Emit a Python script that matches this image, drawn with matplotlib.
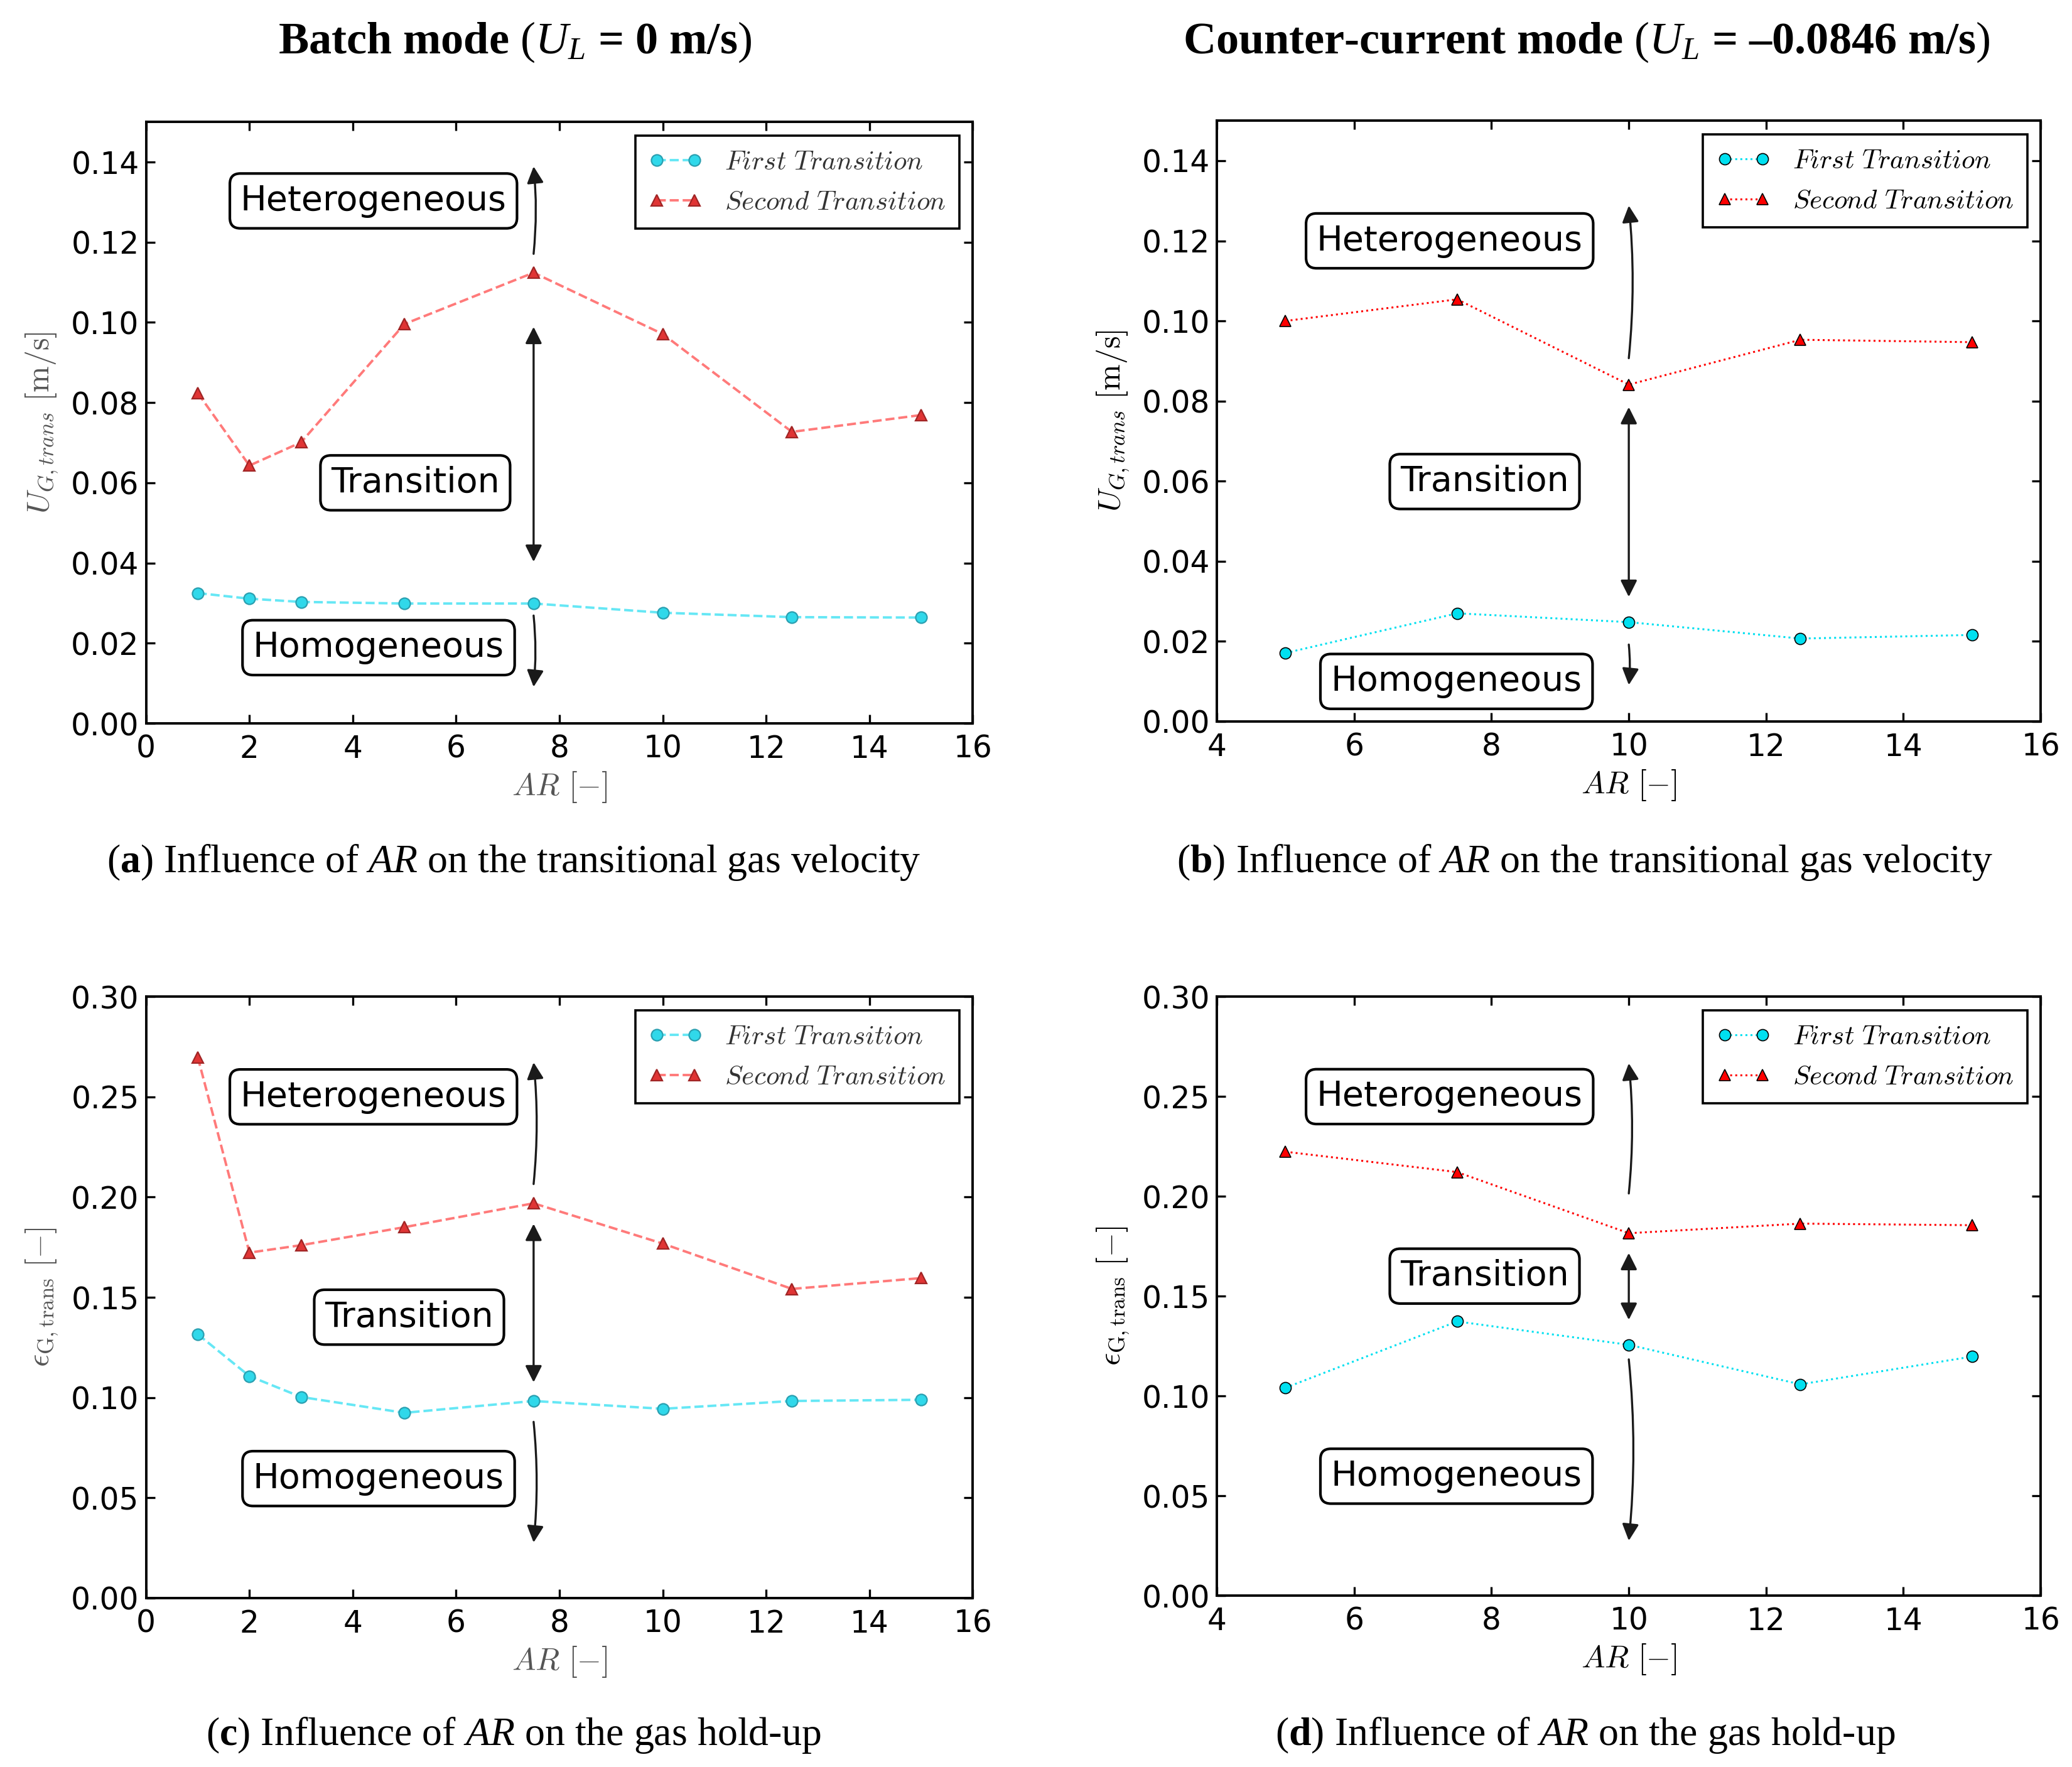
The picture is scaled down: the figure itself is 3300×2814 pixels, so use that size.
import matplotlib
matplotlib.use('Agg')
import matplotlib.pyplot as plt

# aspect ratios tested
ar_batch = [1, 2, 3, 5, 7.5, 10, 12.5, 15]
ar_counter = [5, 7.5, 10, 12.5, 15]

# transitional superficial gas velocity [m/s]
ug_first_batch = [0.0325, 0.0311, 0.0303, 0.0299, 0.0299, 0.0276, 0.0265, 0.0264]
ug_second_batch = [0.0824, 0.0643, 0.0701, 0.0996, 0.1124, 0.0971, 0.0727, 0.0769]
ug_first_counter = [0.0171, 0.0270, 0.0248, 0.0207, 0.0216]
ug_second_counter = [0.1000, 0.1054, 0.0841, 0.0953, 0.0947]

# gas hold-up at transition [-]
eg_first_batch = [0.1316, 0.1107, 0.1003, 0.0924, 0.0983, 0.0944, 0.0983, 0.0989]
eg_second_batch = [0.2698, 0.1723, 0.1760, 0.1850, 0.1969, 0.1768, 0.1542, 0.1596]
eg_first_counter = [0.1041, 0.1373, 0.1256, 0.1058, 0.1197]
eg_second_counter = [0.2223, 0.2121, 0.1815, 0.1863, 0.1855]

plt.rcParams['mathtext.fontset'] = 'cm'
plt.rcParams['mathtext.rm'] = 'Liberation Serif'
plt.rcParams['mathtext.it'] = 'Liberation Serif:italic'
plt.rcParams['mathtext.bf'] = 'Liberation Serif:bold'
plt.rcParams['font.family'] = 'DejaVu Sans'

CYAN = '#00e0f0'


def style_axes(ax, xlim, ylim, yticks, ylabel, labcol):
    ax.set_xlim(*xlim)
    ax.set_ylim(*ylim)
    ax.set_xticks(range(xlim[0], xlim[1] + 1, 2))
    ax.set_yticks(yticks)
    ax.set_yticklabels(['%.2f' % t for t in yticks])
    ax.tick_params(direction='in', top=True, right=True, length=5, width=1.2,
                   labelsize=17.5)
    ax.tick_params(axis='x', pad=6)
    ax.tick_params(axis='y', pad=4)
    for s in ax.spines.values():
        s.set_linewidth(1.4)
    ax.set_xlabel(r'$AR\ [-]$', fontsize=18, color=labcol, labelpad=3)
    ax.set_ylabel(ylabel, fontsize=18, color=labcol, labelpad=6)


def regimes(ax, xa, up, trans, down, boxes):
    # boxed regime names plus arrows pointing into each regime
    for txt, x, y in boxes:
        ax.text(x, y, txt, fontsize=20, ha='center', va='center', zorder=5,
                bbox=dict(boxstyle='round,pad=0.3', fc='white', ec='k', lw=1.5))
    ax.annotate('', xy=(xa, up[1]), xytext=(xa, up[0]),
                arrowprops=dict(arrowstyle='-|>', color='#1a1a1a', lw=1.2,
                                mutation_scale=20, shrinkA=0, shrinkB=0,
                                connectionstyle='arc3,rad=0.05'))
    ax.annotate('', xy=(xa, trans[1]), xytext=(xa, trans[0]),
                arrowprops=dict(arrowstyle='<|-|>', color='#1a1a1a', lw=1.2,
                                mutation_scale=20, shrinkA=0, shrinkB=0))
    ax.annotate('', xy=(xa, down[1]), xytext=(xa, down[0]),
                arrowprops=dict(arrowstyle='-|>', color='#1a1a1a', lw=1.2,
                                mutation_scale=20, shrinkA=0, shrinkB=0,
                                connectionstyle='arc3,rad=-0.05'))


def batch_lines(ax, x, first, second):
    ax.plot(x, first, ls='--', lw=1.4, color=(0.2, 0.88, 0.95, 0.75), marker='o',
            ms=6.5, mfc='#30d8ea', mec='#2a9fb0', mew=0.8, label=r'$First\ Transition$')
    ax.plot(x, second, ls='--', lw=1.4, color=(1.0, 0.3, 0.3, 0.75), marker='^',
            ms=6.5, mfc='#e03535', mec='#a02525', mew=0.8, label=r'$Second\ Transition$')
    leg = ax.legend(loc='upper right', fontsize=15.5, numpoints=2, handlelength=2,
                    fancybox=False, framealpha=1, edgecolor='k', borderpad=0.5)
    leg.get_frame().set_linewidth(1.3)
    for t in leg.get_texts():
        t.set_color('#333333')


def counter_lines(ax, x, first, second):
    ax.plot(x, first, ls=':', lw=1.1, color=CYAN, marker='o', ms=6.5,
            mfc=CYAN, mec='k', mew=0.6, label=r'$First\ Transition$')
    ax.plot(x, second, ls=':', lw=1.1, color='r', marker='^', ms=6.5,
            mfc='r', mec='k', mew=0.6, label=r'$Second\ Transition$')
    leg = ax.legend(loc='upper right', fontsize=15.5, numpoints=2, handlelength=2,
                    fancybox=False, framealpha=1, edgecolor='k', borderpad=0.5)
    leg.get_frame().set_linewidth(1.3)


fig = plt.figure(figsize=(16.5, 14.07), dpi=200)

ax_a = fig.add_axes([0.0705, 0.5906, 0.399, 0.3404])
ax_b = fig.add_axes([0.5873, 0.5917, 0.3976, 0.3400])
ax_c = fig.add_axes([0.0705, 0.0956, 0.399, 0.3404])
ax_d = fig.add_axes([0.5873, 0.0970, 0.3976, 0.3390])

ug_ticks = [0.00, 0.02, 0.04, 0.06, 0.08, 0.10, 0.12, 0.14]
eg_ticks = [0.00, 0.05, 0.10, 0.15, 0.20, 0.25, 0.30]
ug_label = r'$U_{G,trans}\ [\mathrm{m/s}]$'
eg_label = r'$\epsilon_{\mathrm{G,trans}}\ [-]$'

# (a) batch, velocity
batch_lines(ax_a, ar_batch, ug_first_batch, ug_second_batch)
style_axes(ax_a, (0, 16), (0, 0.15), ug_ticks, ug_label, '#555555')
regimes(ax_a, 7.5, (0.1171, 0.1389), (0.0989, 0.0403), (0.0269, 0.0091),
        [('Heterogeneous', 4.40, 0.1303), ('Transition', 5.21, 0.0600),
         ('Homogeneous', 4.50, 0.0189)])

# (b) counter-current, velocity
counter_lines(ax_b, ar_counter, ug_first_counter, ug_second_counter)
style_axes(ax_b, (4, 16), (0, 0.15), ug_ticks, ug_label, 'k')
regimes(ax_b, 10, (0.0907, 0.1288), (0.0785, 0.0311), (0.0192, 0.0091),
        [('Heterogeneous', 7.39, 0.1200), ('Transition', 7.90, 0.0599),
         ('Homogeneous', 7.49, 0.0100)])

# (c) batch, hold-up
batch_lines(ax_c, ar_batch, eg_first_batch, eg_second_batch)
style_axes(ax_c, (0, 16), (0, 0.30), eg_ticks, eg_label, '#555555')
regimes(ax_c, 7.5, (0.2065, 0.2672), (0.1867, 0.1076), (0.0879, 0.0277),
        [('Heterogeneous', 4.40, 0.2500), ('Transition', 5.09, 0.1401),
         ('Homogeneous', 4.50, 0.0596)])

# (d) counter-current, hold-up
counter_lines(ax_d, ar_counter, eg_first_counter, eg_second_counter)
style_axes(ax_d, (4, 16), (0, 0.30), eg_ticks, eg_label, 'k')
regimes(ax_d, 10, (0.2014, 0.2666), (0.1716, 0.1381), (0.1183, 0.0275),
        [('Heterogeneous', 7.39, 0.2499), ('Transition', 7.90, 0.1600),
         ('Homogeneous', 7.49, 0.0598)])

serif = dict(family='Liberation Serif', math_fontfamily='custom', ha='center', va='center')
fig.text(0.2485, 0.9762, r'Batch mode $\mathrm{(}U_L$ = 0 m/s$\mathrm{)}$',
         fontsize=26, fontweight='bold', **serif)
fig.text(0.7657, 0.9762, 'Counter-current mode $\\mathrm{(}U_L$ = \u20130.0846 m/s$\\mathrm{)}$',
         fontsize=26, fontweight='bold', **serif)

fig.text(0.248, 0.5118, r'($\mathbf{a}$) Influence of $AR$ on the transitional gas velocity',
         fontsize=23, **serif)
fig.text(0.765, 0.5118, r'($\mathbf{b}$) Influence of $AR$ on the transitional gas velocity',
         fontsize=23, **serif)
fig.text(0.248, 0.0180, r'($\mathbf{c}$) Influence of $AR$ on the gas hold-up',
         fontsize=23, **serif)
fig.text(0.765, 0.0180, r'($\mathbf{d}$) Influence of $AR$ on the gas hold-up',
         fontsize=23, **serif)

fig.savefig('out.png', dpi=200, facecolor='white')
